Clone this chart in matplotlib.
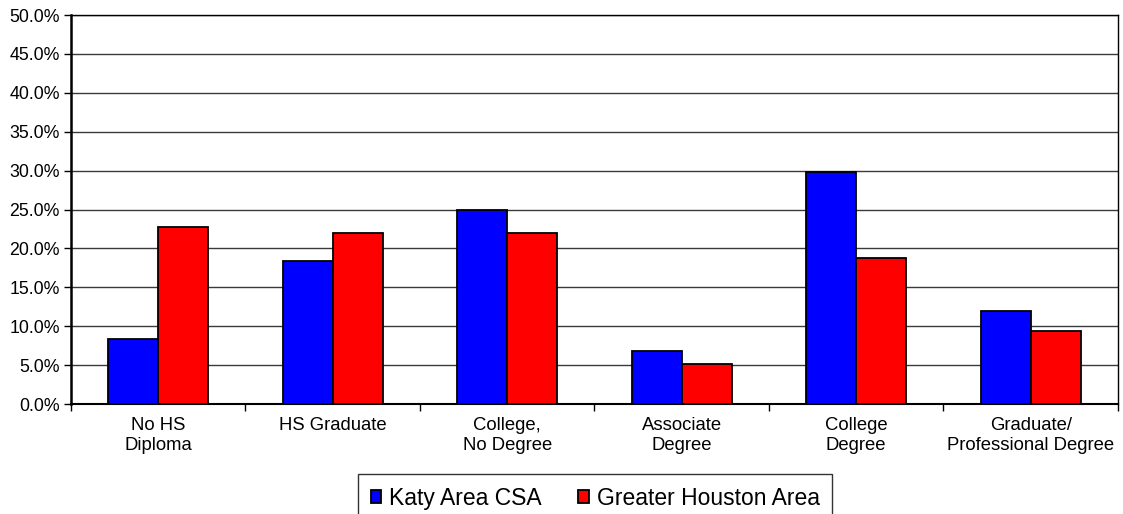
import matplotlib
matplotlib.use('Agg')
import matplotlib.pyplot as plt
import numpy as np
from matplotlib.ticker import FuncFormatter

plt.rcParams['font.family'] = ['Liberation Sans', 'DejaVu Sans']

categories = ['No HS\nDiploma', 'HS Graduate', 'College,\nNo Degree',
              'Associate\nDegree', 'College\nDegree', 'Graduate/\nProfessional Degree']
katy = [8.4, 18.4, 24.9, 6.8, 29.8, 11.9]
houston = [22.8, 22.0, 22.0, 5.2, 18.8, 9.4]
series_names = ['Katy Area CSA', 'Greater Houston Area']
y_ticks = np.arange(0, 50.1, 5)

fig = plt.figure(figsize=(11.23, 5.14), dpi=100)
ax = fig.add_axes([0.0632, 0.214, 0.9323, 0.7568])

x = np.arange(len(categories))
w = 0.287
ax.bar(x - w / 2, katy, w, color='#0000ff', edgecolor='black', linewidth=1.3,
       label=series_names[0], zorder=3)
ax.bar(x + w / 2, houston, w, color='#ff0000', edgecolor='black', linewidth=1.3,
       label=series_names[1], zorder=3)

ax.set_xlim(-0.5, len(categories) - 0.5)
ax.set_ylim(0, 50)
ax.set_yticks(y_ticks)
ax.yaxis.set_major_formatter(FuncFormatter(lambda v, p: f'{v:.1f}%'))
ax.yaxis.grid(True, color='#3a3a3a', linewidth=1.0, zorder=0)

# category labels sit between the boundary ticks
ax.set_xticks(np.arange(len(categories) + 1) - 0.5)
ax.set_xticklabels([])
ax.set_xticks(x, minor=True)
ax.set_xticklabels(categories, minor=True, fontsize=13.3, linespacing=1.25)
ax.tick_params(axis='x', which='minor', length=0, pad=9)
ax.tick_params(axis='x', which='major', length=5, width=1, direction='out')
ax.tick_params(axis='y', length=5, width=1, direction='out', labelsize=12.8, pad=3)

for s in ax.spines.values():
    s.set_color('black')
    s.set_linewidth(1.0)
ax.spines['left'].set_linewidth(1.8)
ax.spines['bottom'].set_linewidth(1.5)

leg = fig.legend(loc='upper center', bbox_to_anchor=(0.53, 0.078), ncol=2,
                 fontsize=16.5, frameon=True, fancybox=False, edgecolor='black',
                 handlelength=0.45, handleheight=0.45, handletextpad=0.35,
                 columnspacing=1.6, borderpad=0.55, borderaxespad=0)
leg.get_frame().set_linewidth(1.0)

fig.savefig('out.png', dpi=100)
